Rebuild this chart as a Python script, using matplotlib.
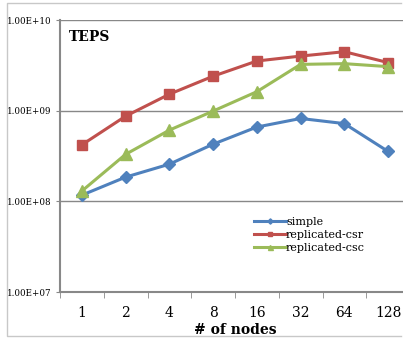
import math
import matplotlib.pyplot as plt
from matplotlib.lines import Line2D
from matplotlib.ticker import FixedLocator, FuncFormatter, NullLocator

# 데이터
nodes = ['1', '2', '4', '8', '16', '32', '64', '128']
simple = [1.17e8, 1.85e8, 2.57e8, 4.27e8, 6.6e8, 8.2e8, 7.2e8, 3.55e8]
replicated_csr = [4.2e8, 8.7e8, 1.52e9, 2.4e9, 3.53e9, 4.0e9, 4.47e9, 3.39e9]
replicated_csc = [1.3e8, 3.3e8, 6.1e8, 9.9e8, 1.62e9, 3.24e9, 3.3e9, 3.06e9]
y_ticks = [1e7, 1e8, 1e9, 1e10]

plt.rcParams['font.family'] = ['DejaVu Serif']

fig = plt.figure(figsize=(4.03, 3.39), dpi=100)
W, H = 403, 339
# 바깥 테두리 (오른쪽은 잘려 있음)
x0, y_top, y_bot = 7.5 / W, 1 - 2.5 / H, 1 - 335.5 / H
fig.add_artist(Line2D([0.995, x0, x0, 0.995], [y_top, y_top, y_bot, y_bot], transform=fig.transFigure,
                      color='#c8c8c8', linewidth=1.0))

ax = fig.add_axes([60 / W, 1 - 292 / H, 350 / W, 272 / H])
x = list(range(len(nodes)))

ax.plot(x, simple, color='#4F81BD', marker='D', markersize=6, linewidth=2.2, label='simple')
ax.plot(x, replicated_csr, color='#C0504D', marker='s', markersize=7.5, linewidth=2.2, label='replicated-csr')
ax.plot(x, replicated_csc, color='#9BBB59', marker='^', markersize=8, linewidth=2.2, label='replicated-csc')

ax.set_yscale('log')
ax.set_ylim(1e7, 1e10)
ax.set_xlim(-0.5, len(nodes) - 0.5)
ax.yaxis.set_major_locator(FixedLocator(y_ticks))
ax.yaxis.set_minor_locator(NullLocator())
ax.yaxis.set_major_formatter(FuncFormatter(lambda v, p: '1.00E+%02d' % round(math.log10(v))))
ax.tick_params(axis='y', labelsize=6.3, length=3, color='#888888', pad=3)

ax.set_xticks(x)
ax.set_xticklabels(nodes, fontsize=10)
ax.set_xticks([i - 0.5 for i in range(len(nodes) + 1)], minor=True)
ax.tick_params(axis='x', which='major', length=0, pad=10)
ax.tick_params(axis='x', which='minor', length=4, color='#888888')

ax.grid(axis='y', color='#888888', linewidth=1.0)
ax.set_axisbelow(True)
for s in ['top', 'right']:
    ax.spines[s].set_visible(False)
for s in ['left', 'bottom']:
    ax.spines[s].set_color('#888888')
    ax.spines[s].set_linewidth(1.5)

ax.set_xlabel('# of nodes', fontsize=10, fontweight='bold', labelpad=2)
ax.text(0.025, 0.965, 'TEPS', transform=ax.transAxes, fontsize=10, fontweight='bold', va='top')

ax.legend(loc='upper left', bbox_to_anchor=(0.538, 0.295), frameon=False, fontsize=8,
          handlelength=2.9, handletextpad=0, labelspacing=0.25, markerscale=0.45, borderpad=0)

fig.savefig('out.png', dpi=100)
plt.close()
